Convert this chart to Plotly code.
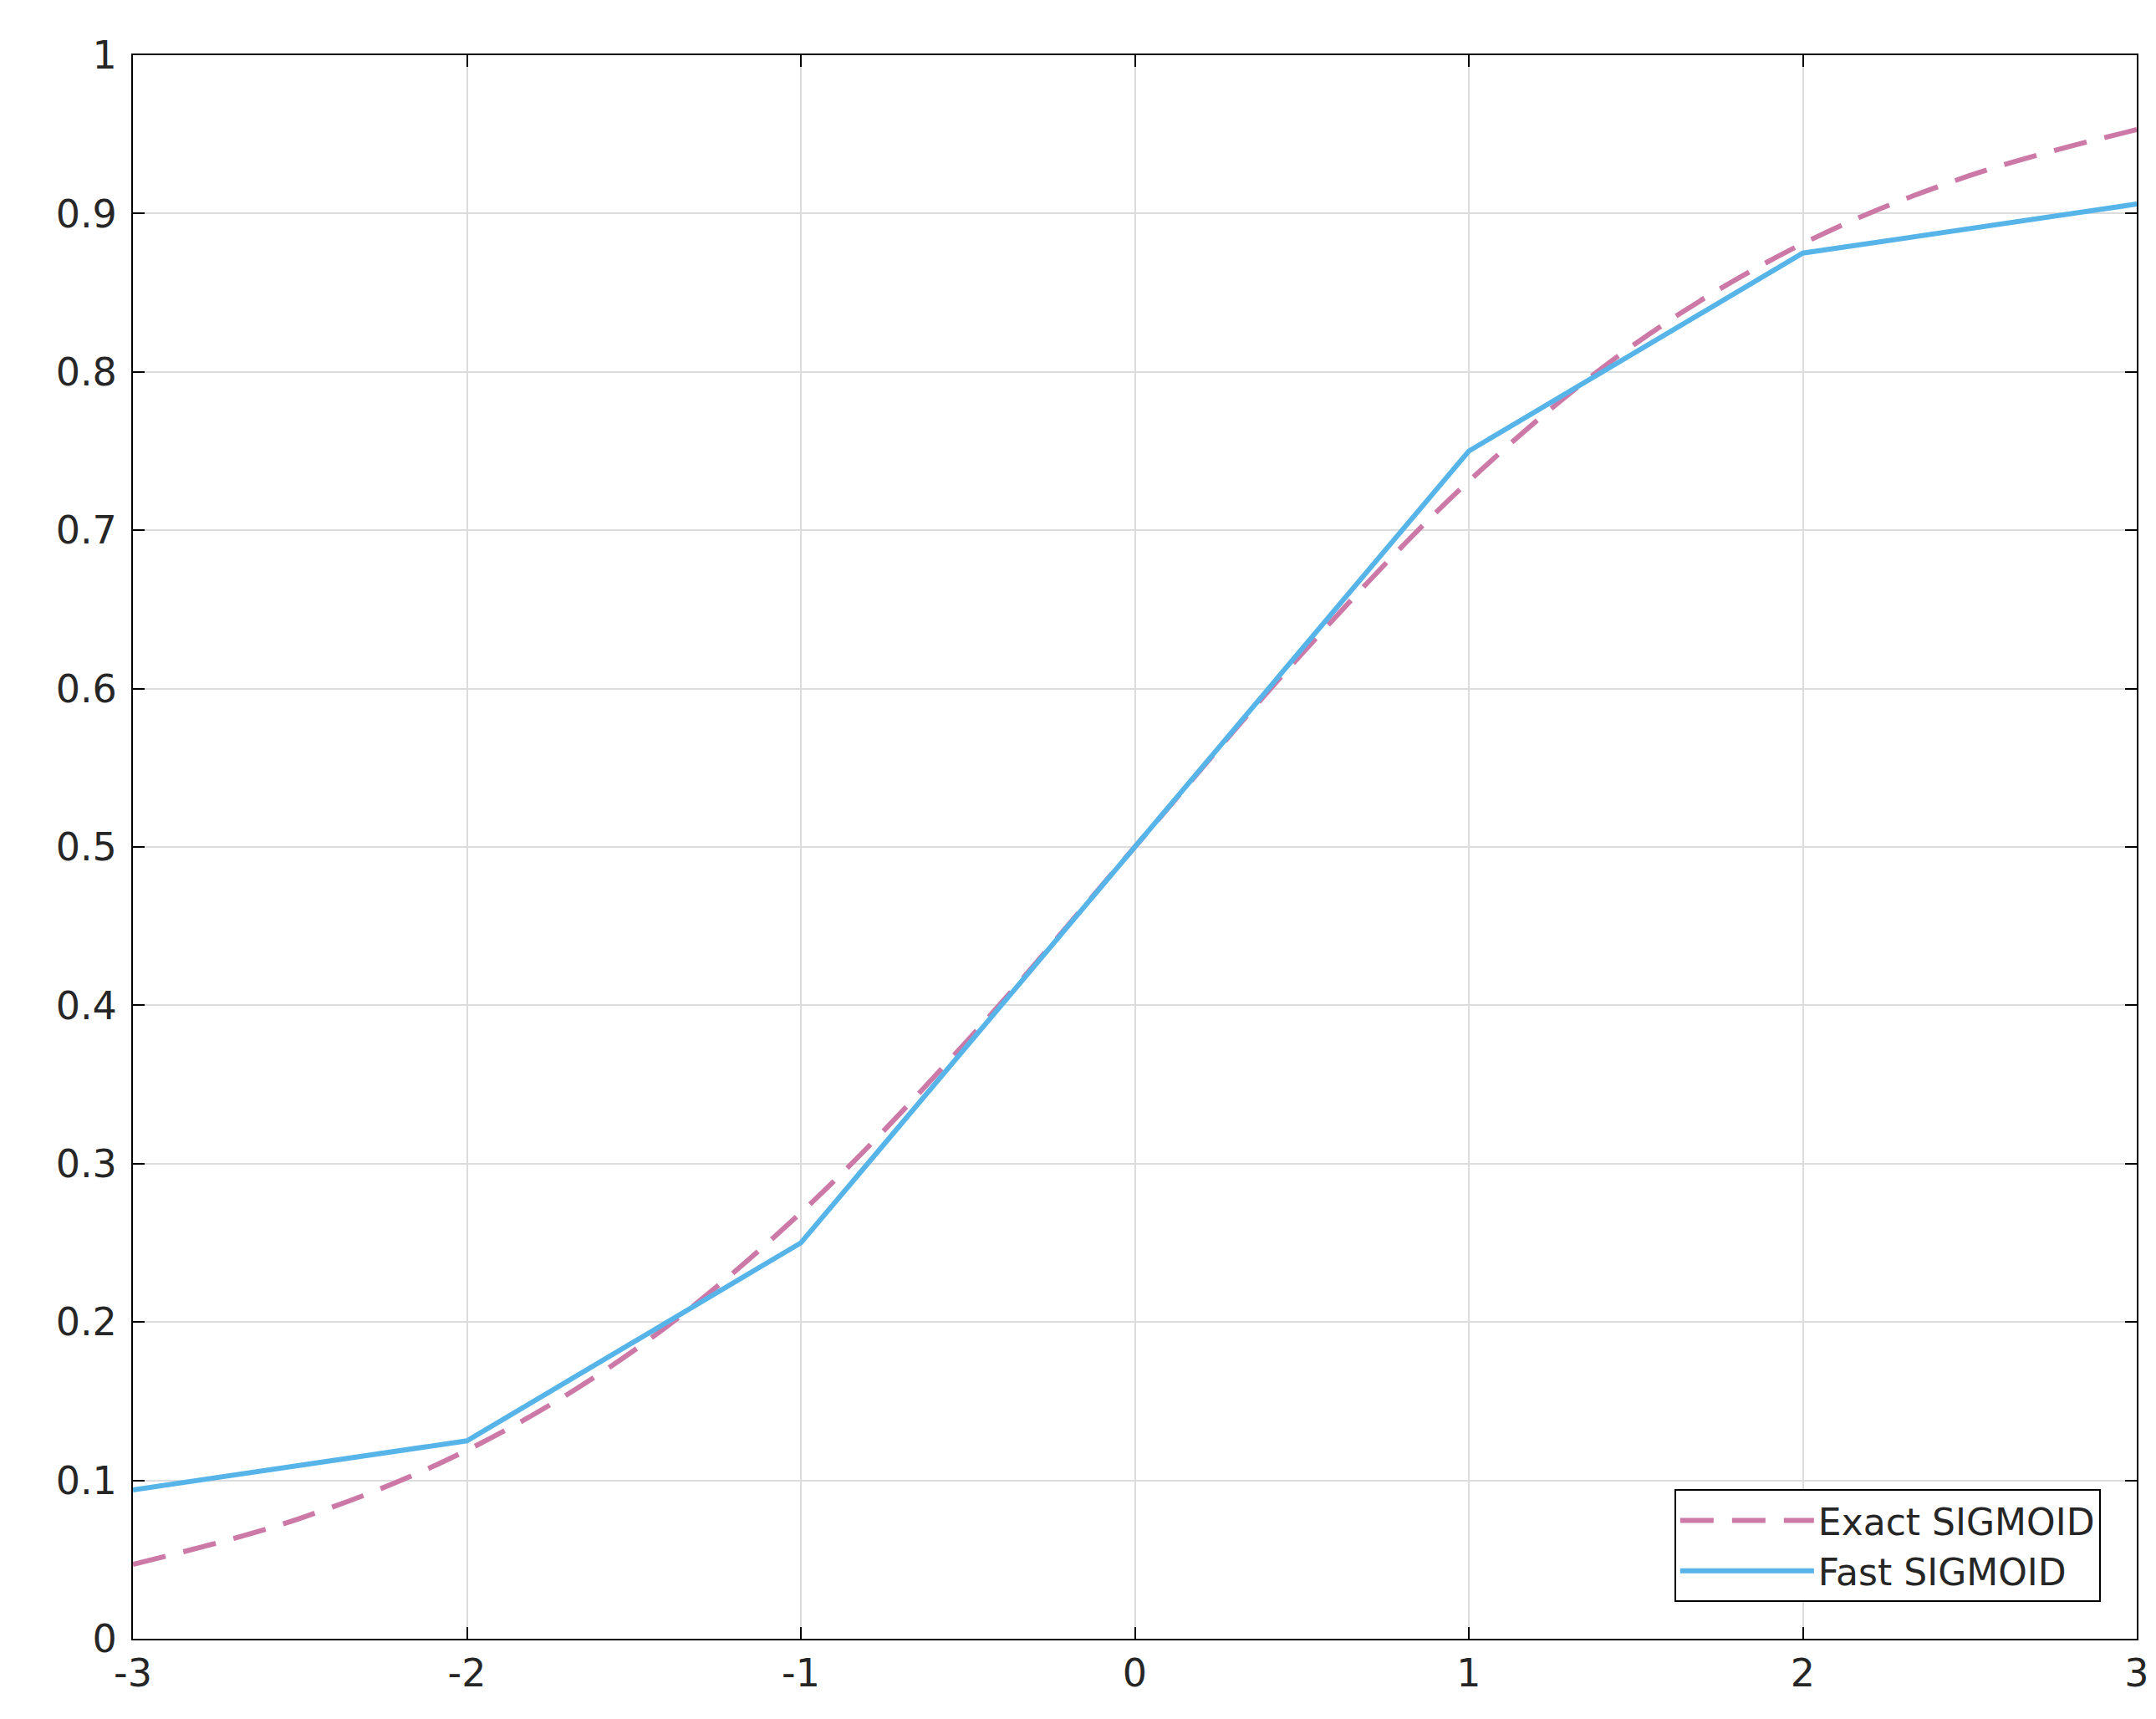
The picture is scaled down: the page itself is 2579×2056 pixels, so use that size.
import plotly.graph_objects as go

x_exact = [-3, -2.5, -2, -1.5, -1, -0.5, 0, 0.5, 1, 1.5, 2, 2.5, 3]
y_exact = [0.047, 0.076, 0.119, 0.182, 0.269, 0.378, 0.5, 0.622, 0.731, 0.818, 0.881, 0.924, 0.953]
x_fast = [-3, -2, -1, 0, 1, 2, 3]
y_fast = [0.094, 0.125, 0.25, 0.5, 0.75, 0.875, 0.906]
x_ticks = [-3, -2, -1, 0, 1, 2, 3]
x_labels = ["-3", "-2", "-1", "0", "1", "2", "3"]

fig = go.Figure()
fig.add_trace(go.Scatter(x=x_exact, y=y_exact, mode="lines", name="Exact SIGMOID",
                         line=dict(color="#CC79A7", width=6, dash="40px,22px", shape="spline")))
fig.add_trace(go.Scatter(x=x_fast, y=y_fast, mode="lines", name="Fast SIGMOID",
                         line=dict(color="#56B4E9", width=6)))

ax = dict(showline=True, linecolor="black", linewidth=2, mirror="ticks", ticks="inside",
          ticklen=14, tickwidth=2, tickcolor="black", showgrid=True, gridcolor="#dcdcdc",
          gridwidth=2, zeroline=False, tickfont=dict(family="DejaVu Sans", size=46, color="#262626"))
fig.update_xaxes(range=[-3, 3], tickvals=x_ticks, ticktext=x_labels, **ax)
fig.update_yaxes(range=[0, 1], tickvals=[i / 10 for i in range(11)],
                 ticktext=["0", "0.1", "0.2", "0.3", "0.4", "0.5", "0.6", "0.7", "0.8", "0.9", "1"],
                 ticklabelstandoff=8, **ax)
fig.update_layout(width=2579, height=2056, margin=dict(l=151, r=31, t=58, b=104),
                  plot_bgcolor="white", paper_bgcolor="white",
                  legend=dict(x=0.982, y=0.023, xanchor="right", yanchor="bottom",
                              bordercolor="black", borderwidth=2, bgcolor="white",
                              itemwidth=160, tracegroupgap=10,
                              font=dict(family="DejaVu Sans", size=44, color="#262626")))
fig.write_html("out.html")
